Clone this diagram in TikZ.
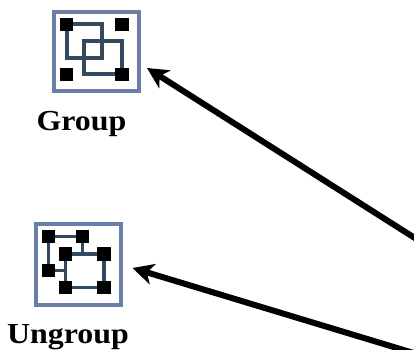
\documentclass[tikz,border=0pt]{standalone}
\usepackage{fontspec}
\setmainfont{Liberation Serif}[BoldFeatures={FakeStretch=1.1}]
\usetikzlibrary{arrows.meta}
\definecolor{framec}{HTML}{6A7FA8}
\definecolor{linkc}{HTML}{34495E}
\tikzset{
  x=1pt,y=-1pt,
  frame/.style={draw=framec,line width=4pt,fill=white,minimum width=85pt,inner sep=0pt,outer sep=0pt},
  handle/.style={fill=black,minimum size=13.5pt,inner sep=0pt,outer sep=0pt},
  link/.style={draw=linkc,line width=3.8pt},
  lbl/.style={font=\bfseries\fontsize{29}{31}\selectfont,inner sep=0pt,anchor=base},
  pointer/.style={draw=black,line width=6pt,-{Stealth[length=21pt,width=21pt,inset=6pt]}}
}
\begin{document}
\begin{tikzpicture}
\useasboundingbox (0,0) rectangle (414,349);
% Group icon
\node[frame,minimum height=79pt] (gf) at (96.5,51.5) {};
\draw[link] (67,24) rectangle (102,58);
\draw[link] (84,41) rectangle (122,74);
\node[handle] (g1) at (66.5,24.5) {};
\node[handle] (g2) at (122,24.5) {};
\node[handle] (g3) at (66.5,74.5) {};
\node[handle] (g4) at (122,74.5) {};
\node[lbl] (gl) at (81.5,130) {Group};
% Ungroup icon
\node[frame,minimum height=81pt] (uf) at (78.5,264.5) {};
\node[handle] (u1) at (48.5,236.5) {};
\node[handle] (u2) at (82.5,236.5) {};
\node[handle] (u3) at (65.5,254) {};
\node[handle] (u4) at (104,254) {};
\node[handle] (u5) at (48.5,270.5) {};
\node[handle] (u6) at (65.5,287.5) {};
\node[handle] (u7) at (104,287.5) {};
\draw[link] (u1) -- (u2);
\draw[link] (u1) -- (u5);
\draw[link] (u2) -- (u2 |- u3);
\draw[link] (u5) -- (u5 -| u3);
\draw[link] (u3) -- (u4);
\draw[link] (u4) -- (u7);
\draw[link] (u7) -- (u6);
\draw[link] (u6) -- (u3);
\node[lbl] (ul) at (68,343) {Ungroup};
% Arrows
\coordinate (a1) at (423.5,243.5);
\coordinate (t1) at (147,68);
\coordinate (a2) at (423.5,356);
\coordinate (t2) at (132.5,268);
\draw[pointer] (a1) -- (t1);
\draw[pointer] (a2) -- (t2);
\end{tikzpicture}
\end{document}
